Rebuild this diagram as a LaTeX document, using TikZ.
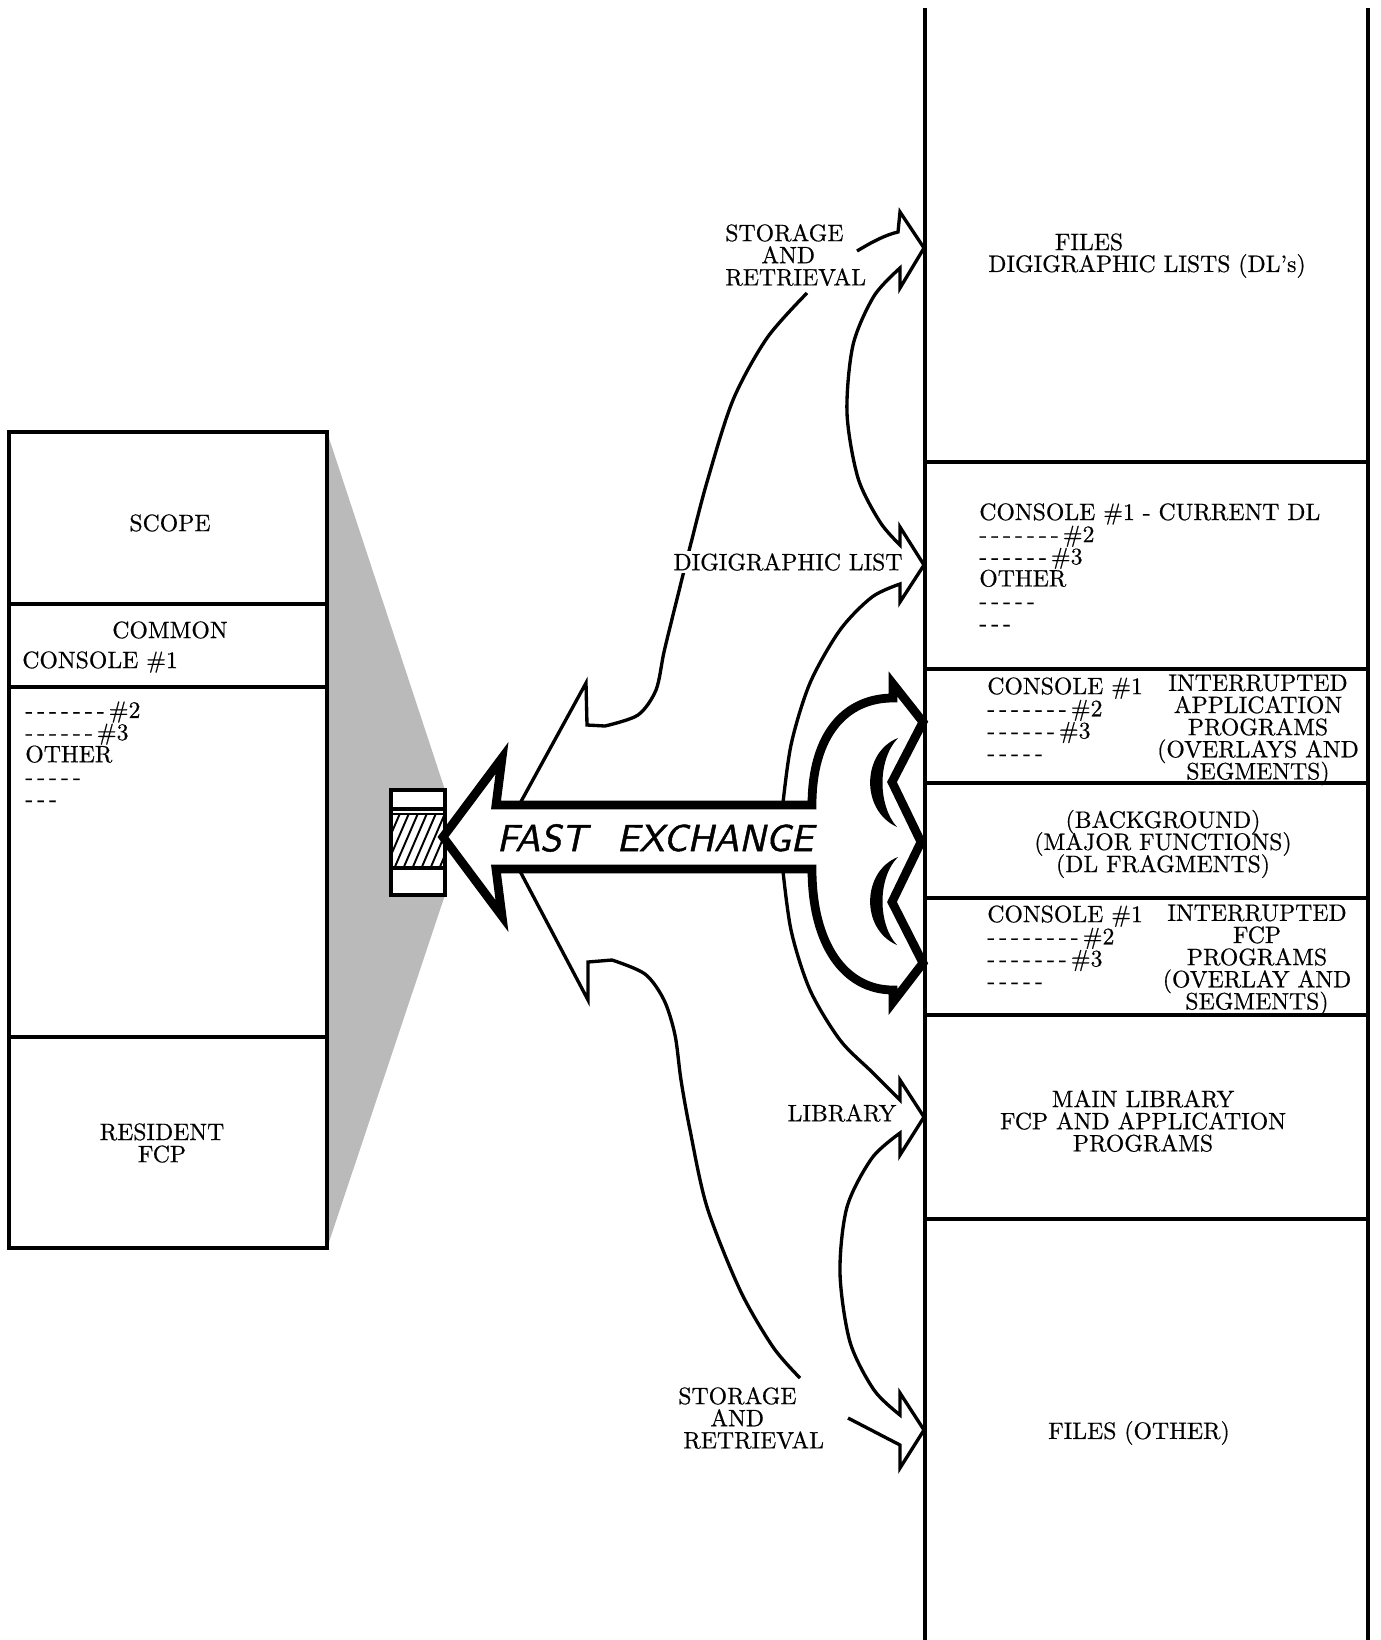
\documentclass[tikz,border=0pt]{standalone}
\usepackage{fontspec}
\setmainfont{lmroman10-regular.otf}[FakeBold=0.6]
\newfontfamily\fxfont{lmsans10-oblique.otf}[FakeBold=1.2]
\usepackage{xcolor}
\definecolor{dotgray}{RGB}{186,186,186}
\usetikzlibrary{calc}
\newcommand{\dashrun}[1]{\foreach \dashidx in {1,...,#1}{-\kern.17em}}
\newcommand{\tightlines}{\lineskiplimit-20pt\relax}

\begin{document}
\begin{tikzpicture}[x=0.02cm, y=-0.02cm,
    txt/.style={font=\fontsize{13.5}{12.6}\selectfont\tightlines, inner sep=0pt},
    memline/.style={line width=1.8pt},
    hollow/.style={line width=1.9pt, line join=miter},
    fastarrow/.style={line width=5pt, line join=miter, fill=white}]
  \useasboundingbox (0,0) rectangle (1380,1640);

  % beam from the core to the buffer
  \fill[dotgray] (327,432) -- (445,790) -- (445,895) -- (327,1248) -- cycle;

  % core memory
  \draw[memline, fill=white] (9,432) rectangle (327,1248);
  \foreach \yy in {604,687,1037}
    \draw[memline] (9,\yy) -- (327,\yy);
  \node[txt] (scope) at (170,523) {SCOPE};
  \node[txt] (common) at (170,630) {COMMON};
  \node[txt, anchor=west] (cons) at (22,662) {CONSOLE \#1};
  \node[txt, anchor=west, align=left] (coreother) at (25,754)
    {\dashrun{7}\#2\\ \dashrun{6}\#3\\ OTHER\\ \dashrun{5}\\ \dashrun{3}};
  \node[txt, align=center] (resident) at (162,1143) {RESIDENT\\ FCP};

  % buffer
  \fill[white] (391,790) rectangle (445,895);
  \begin{scope}
    \clip (391,813) rectangle (445,867);
    \foreach \h in {0,...,8}
      \draw[line width=1.1pt] ({376+\h*9},869) -- ({401+\h*9},811);
  \end{scope}
  \draw[line width=2.3pt] (391,790) rectangle (445,895);
  \draw[line width=2pt] (391,809) -- (445,809);
  \draw[line width=0.8pt] (391,814) -- (445,814);
  \draw[line width=2pt] (391,868) -- (445,868);

  % drum / disc column
  \draw[memline] (925,8) -- (925,1640);
  \draw[memline] (1368,8) -- (1368,1640);
  \foreach \yy in {462,669,783,898,1015,1219}
    \draw[memline] (925,\yy) -- (1368,\yy);

  \node[txt] (files) at (1089,242) {FILES};
  \node[txt] (dllists) at (1147,266) {DIGIGRAPHIC LISTS (DL's)};
  \node[txt, anchor=west, align=left] (curdl) at (979,567)
    {CONSOLE \#1 - CURRENT DL\\ \dashrun{7}\#2\\ \dashrun{6}\#3\\ OTHER\\ \dashrun{5}\\ \dashrun{3}};
  \node[txt, anchor=west, align=left] (appcons) at (987,719)
    {CONSOLE \#1\\ \dashrun{7}\#2\\ \dashrun{6}\#3\\ \dashrun{5}};
  \node[txt, align=center] (appprog) at (1258,730)
    {INTERRUPTED\\ APPLICATION\\ PROGRAMS\\ (OVERLAYS AND\\ SEGMENTS)};
  \node[txt, align=center] (backgr) at (1163,844)
    {(BACKGROUND)\\ (MAJOR FUNCTIONS)\\ (DL FRAGMENTS)};
  \node[txt, anchor=west, align=left] (fcpcons) at (987,947)
    {CONSOLE \#1\\ \dashrun{8}\#2\\ \dashrun{7}\#3\\ \dashrun{5}};
  \node[txt, align=center] (fcpprog) at (1257,960)
    {INTERRUPTED\\ FCP\\ PROGRAMS\\ (OVERLAY AND\\ SEGMENTS)};
  \node[txt, align=center] (mainlib) at (1143,1121)
    {MAIN LIBRARY\\ FCP AND APPLICATION\\ PROGRAMS};
  \node[txt] (filesother) at (1139,1433) {FILES (OTHER)};

  % arrow tips on the column
  \coordinate (srtoptip) at (924,248);
  \coordinate (dltip) at (924,565);
  \coordinate (libtip) at (924,1117);
  \coordinate (srbottip) at (924,1430);

  % upper fork: storage and retrieval, digigraphic list
  \draw[hollow] (512,818) -- (586,683) -- (587,725) -- plot[smooth] coordinates
    {(605,726) (638,715) (656,690) (664,652) (675,607) (690,547) (707,482) (733,400) (767,338) (807,293)};
  \draw[hollow] (857,251) .. controls (872,242) and (885,235) .. (898,232) -- (900,212)
    -- (srtoptip) -- (900,288) -- (900,268) -- plot[smooth] coordinates
    {(900,268) (874,296) (853,345) (847,413) (858,478) (880,522) (900,545)}
    -- (900,527) -- (dltip) -- (900,602) -- (900,584) -- plot[smooth] coordinates
    {(900,584) (872,597) (840,630) (810,683) (791,745) (782,812)};

  % lower fork: library, storage and retrieval
  \draw[hollow] (512,856) -- (588,1000) -- (588,962) -- plot[smooth] coordinates
    {(612,960) (645,974) (664,1000) (675,1035) (681,1080) (690,1130) (707,1207) (740,1290) (773,1347) (800,1378)};
  \draw[hollow] (848,1418) -- (900,1445) -- (900,1468) -- (srbottip) -- (900,1393)
    -- (900,1415) -- plot[smooth] coordinates
    {(900,1415) (874,1390) (850,1342) (840,1273) (847,1207) (872,1158) (900,1133)}
    -- (900,1155) -- (libtip) -- (900,1080) -- (900,1100) -- plot[smooth] coordinates
    {(900,1100) (872,1072) (840,1040) (810,990) (791,930) (782,862)};

  % fast exchange arrow
  \draw[fastarrow] (443,837) -- (502,758) -- (496,805) -- (812,805)
    .. controls (812,735) and (845,698) .. (893,698) -- (893,684) -- (923,722)
    -- (892,782) -- (921,842) -- (892,902) -- (923,963) -- (893,1002) -- (893,990)
    .. controls (845,990) and (812,945) .. (812,869) -- (496,869) -- (502,916) -- cycle;
  \fill (898,738) .. controls (862,752) and (860,810) .. (897,827)
    .. controls (878,806) and (877,760) .. (898,738) -- cycle;
  \fill (898,857) .. controls (862,871) and (860,929) .. (897,945)
    .. controls (878,925) and (877,878) .. (898,857) -- cycle;
  \node[font=\fontsize{21.4}{26}\fxfont, inner sep=0pt]
    (fastx) at (655,838) {FAST\hspace{0.8em}EXCHANGE};

  % labels
  \node[txt, anchor=west, align=left] (srtop) at (725,255)
    {STORAGE\\ \hspace*{0.72cm}AND\\ RETRIEVAL};
  \node[txt, fill=white, inner sep=1.5pt] (dllabel) at (788,562) {DIGIGRAPHIC LIST};
  \node[txt] (liblabel) at (842,1113) {LIBRARY};
  \node[txt, anchor=west, align=left] (srbot) at (678,1418)
    {STORAGE\\ \hspace*{0.64cm}AND\\ \hspace*{0.1cm}RETRIEVAL};
\end{tikzpicture}
\end{document}
